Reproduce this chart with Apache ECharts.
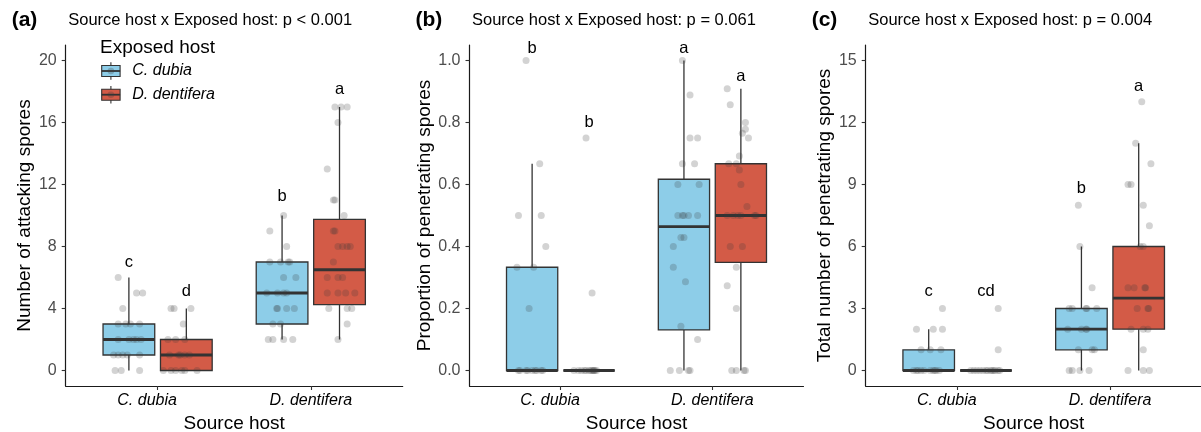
<!DOCTYPE html>
<html><head><meta charset="utf-8">
<script src="https://cdn.jsdelivr.net/npm/echarts@6/dist/echarts.min.js"></script>
<style>html,body{margin:0;padding:0;background:#fff}#c{width:1201px;height:432px}</style>
</head><body><div id="c"></div>
<script>
// ---------- data ----------
const sourceHosts = ['C. dubia', 'D. dentifera'];
const exposedHosts = ['C. dubia', 'D. dentifera'];
const panelLabels = ['(a)', '(b)', '(c)'];
const panelTitles = ['Source host x Exposed host: p < 0.001', 'Source host x Exposed host: p = 0.061', 'Source host x Exposed host: p = 0.004'];
const yTitles = ['Number of attacking spores', 'Proportion of penetrating spores', 'Total number of penetrating spores'];
const xTitle = 'Source host';
const legendTitle = 'Exposed host';
const attackTicks = [0, 4, 8, 12, 16, 20];
const propTicks = [0, 0.2, 0.4, 0.6, 0.8, 1.0];
const totalTicks = [0, 3, 6, 9, 12, 15];
// group order: [source index, exposed index]
const groups = [[0, 0], [0, 1], [1, 0], [1, 1]];
// box stats: [lower whisker, Q1, median, Q3, upper whisker]
const attackBox = [[0, 1, 2, 3, 6], [0, 0, 1, 2, 4], [2, 3, 5, 7, 10], [2, 4.25, 6.5, 9.75, 17]];
const propBox = [[0, 0, 0, 0.333, 0.667], [0, 0, 0, 0, 0], [0, 0.131, 0.464, 0.617, 1.0], [0, 0.349, 0.5, 0.667, 0.909]];
const totalBox = [[0, 0, 0, 1, 2], [0, 0, 0, 0, 0], [0, 1, 2, 3, 6], [0, 2, 3.5, 6, 11]];
// significance letters and their heights
const attackLetters = ['c', 'd', 'b', 'a'];
const attackLetterY = [7.0, 5.1, 11.2, 18.1];
const propLetters = ['b', 'b', 'a', 'a'];
const propLetterY = [1.04, 0.80, 1.04, 0.95];
const totalLetters = ['c', 'cd', 'b', 'a'];
const totalLetterY = [3.82, 3.82, 8.8, 13.74];
// raw points (values and jitter offsets)
const attackCCv = [6,5,5,4,3,3,3,3,2,2,2,2,2,1,1,1,1,1,0,0,0];
const attackCCj = [-0.07,0.05,0.09,-0.04,-0.07,-0.02,0.01,0.07,-0.07,0,0.03,0.05,0.08,-0.10,-0.07,-0.04,-0.01,0.07,-0.09,-0.05,0.07];
const attackCDv = [4,4,4,3,2,2,2,1,1,1,1,1,0,0,0,0,0,0];
const attackCDj = [-0.10,-0.08,0.03,-0.02,-0.12,-0.07,-0.01,-0.11,-0.05,-0.04,-0.01,0.02,-0.15,-0.10,-0.07,-0.03,-0.01,0.07];
const attackDCv = [10,9,8,7,7,7,7,6,6,5,5,5,5,4,4,4,4,3,3,2,2,2,2];
const attackDCj = [0.01,-0.08,0.03,-0.08,-0.01,0.04,0.05,0.01,0.09,-0.10,-0.03,0.01,0.03,-0.03,-0.035,0.03,0.08,-0.06,-0.01,-0.09,-0.06,0.01,0.07];
const attackDDv = [17,17,17,16,13,11,11,10,9,9,8,8,8,8,7,6,6,6,5,5,5,5,4,4,4,3,2];
const attackDDj = [-0.03,0.01,0.05,-0.01,-0.08,-0.04,-0.03,0.03,-0.04,-0.03,-0.01,0.02,0.05,0.07,-0.04,-0.08,-0.01,0.02,-0.08,-0.01,0.04,0.10,-0.07,0.05,0.08,0.05,-0.01];
const propCCv = [1.0,0.667,0.5,0.5,0.4,0.333,0.333,0.2,0,0,0,0,0,0,0,0,0];
const propCCj = [-0.04,0.05,-0.09,0.06,0.09,-0.10,0.01,-0.02,-0.09,-0.08,-0.04,-0.03,0,0.02,0.03,0.06,0.07];
const propCDv = [0.75,0.25,0,0,0,0,0,0,0,0,0,0,0,0];
const propCDj = [-0.02,0.02,-0.10,-0.07,-0.05,-0.03,-0.02,0,0.01,0.03,0.03,0.05,0.04,0.02];
const propDCv = [1.0,0.889,0.75,0.75,0.667,0.667,0.6,0.6,0.5,0.5,0.5,0.5,0.5,0.429,0.429,0.4,0.333,0.286,0.143,0.1,0,0,0,0];
const propDCj = [-0.01,0.04,0.04,0.09,-0.01,0.07,-0.04,0.10,-0.04,-0.01,0,0.03,0.09,-0.02,0,-0.07,-0.07,0.01,-0.02,0.09,-0.09,-0.03,0.03,0.04];
const propDDv = [0.909,0.857,0.8,0.778,0.765,0.75,0.692,0.667,0.667,0.647,0.6,0.529,0.5,0.5,0.5,0.5,0.5,0.5,0.4,0.4,0.333,0.273,0.2,0,0,0,0];
const propDDj = [-0.09,-0.07,0.03,0.03,0.01,0.05,-0.01,-0.08,-0.03,-0.01,0,0.04,-0.09,-0.05,-0.02,0,0.09,0.10,-0.07,0.01,-0.03,-0.09,-0.03,-0.06,-0.03,0.02,0.03];
const totalCCv = [3,2,2,2,1,1,1,0,0,0,0,0,0,0,0,0,0];
const totalCCj = [0.09,-0.08,0.03,0.09,-0.05,0.01,0.08,-0.10,-0.08,-0.07,-0.05,-0.03,0.01,0.03,0.04,0.05,0.07];
const totalCDv = [3,1,0,0,0,0,0,0,0,0,0,0,0,0,0];
const totalCDj = [0.08,0.08,-0.10,-0.08,-0.06,-0.04,-0.02,0,0.01,0.03,0.04,0.05,0.06,0.08,0.09];
const totalDCv = [8,6,4,3,3,3,3,3,2,2,2,2,1,1,1,0,0,0,0];
const totalDCj = [-0.02,-0.01,0.07,-0.08,-0.06,0.03,0.035,0.10,-0.09,0,0.03,0.035,-0.02,0.07,0.085,-0.08,-0.06,-0.01,0.05];
const totalDDv = [13,11,10,9,9,8,7,6,6,4,4,4,4,3,3,3,2,2,2,1,0,0,0];
const totalDDj = [0.02,-0.02,0.08,-0.07,-0.05,0.03,0.07,0.01,0.03,-0.07,-0.03,0.04,0.045,-0.01,0.06,0.065,-0.05,0.03,0.06,0.03,-0.07,0.03,0.07];

// ---------- styling / layout ----------
const FONT = '"Liberation Sans", Arial, Helvetica, sans-serif';
const fills = ['#8DCDE8', '#D35B47'];
const edge = '#333333';
const ptColor = 'rgba(60,60,60,0.28)';
const DODGE = 0.1875, HALF = 0.16875;
const gridsPos = [
  {left: 65.7, top: 45, width: 337, height: 341},
  {left: 469.5, top: 45, width: 334, height: 341},
  {left: 865.7, top: 45, width: 336, height: 341}
];
const panels = [
  {box: attackBox, pts: [[attackCCv, attackCCj], [attackCDv, attackCDj], [attackDCv, attackDCj], [attackDDv, attackDDj]],
   letters: attackLetters, letterY: attackLetterY, ticks: attackTicks, min: -1, max: 21, dec: 0},
  {box: propBox, pts: [[propCCv, propCCj], [propCDv, propCDj], [propDCv, propDCj], [propDDv, propDDj]],
   letters: propLetters, letterY: propLetterY, ticks: propTicks, min: -0.05, max: 1.05, dec: 1},
  {box: totalBox, pts: [[totalCCv, totalCCj], [totalCDv, totalCDj], [totalDCv, totalDCj], [totalDDv, totalDDj]],
   letters: totalLetters, letterY: totalLetterY, ticks: totalTicks, min: -0.75, max: 15.75, dec: 0}
];
function groupX(g) { return groups[g][0] + 1 + (groups[g][1] === 0 ? -DODGE : DODGE); }

const grid = [], xAxis = [], yAxis = [], series = [], graphic = [];
panels.forEach((p, i) => {
  grid.push(Object.assign({containLabel: false, outerBoundsMode: 'none'}, gridsPos[i]));
  xAxis.push({
    type: 'value', gridIndex: i, min: 0.4, max: 2.6,
    name: xTitle, nameLocation: 'middle', nameGap: 25,
    nameTextStyle: {fontFamily: FONT, fontSize: 19, color: '#000'},
    axisLine: {show: true, onZero: false, lineStyle: {color: '#1a1a1a', width: 1.2}},
    axisTick: {show: true, length: 4, customValues: [1, 2], lineStyle: {color: '#333', width: 1.1}},
    axisLabel: {customValues: [1, 2], margin: 7, fontFamily: FONT, fontSize: 16, color: '#000', fontStyle: 'italic',
      formatter: v => v === 1 ? '{s|' + sourceHosts[0] + '}' : sourceHosts[Math.round(v) - 1],
      rich: {s: {fontFamily: FONT, fontSize: 16, fontStyle: 'italic', color: '#000', padding: [0, 21, 0, 0]}}},
    splitLine: {show: false}
  });
  yAxis.push({
    type: 'value', gridIndex: i, min: p.min, max: p.max,
    name: yTitles[i], nameLocation: 'middle', nameGap: 31, nameRotate: 90,
    nameTextStyle: {fontFamily: FONT, fontSize: 19, color: '#000'},
    axisLine: {show: true, onZero: false, lineStyle: {color: '#1a1a1a', width: 1.2}},
    axisTick: {show: true, length: 4, customValues: p.ticks, lineStyle: {color: '#333', width: 1.1}},
    axisLabel: {customValues: p.ticks, margin: 9, fontFamily: FONT, fontSize: 16, color: '#4D4D4D',
      formatter: v => v.toFixed(p.dec)},
    splitLine: {show: false}
  });
  // boxes
  series.push({
    type: 'custom', xAxisIndex: i, yAxisIndex: i, z: 2,
    data: p.box.map((b, g) => [groupX(g)].concat(b).concat([groups[g][1]])),
    encode: {x: 0, y: [1, 5]},
    renderItem: (params, api) => {
      const x = api.value(0);
      const q = [1, 2, 3, 4, 5].map(k => api.value(k));
      const ci = api.value(6);
      const c = (yy) => api.coord([x, yy]);
      const tl = api.coord([x - HALF, q[3]]);
      const br = api.coord([x + HALF, q[1]]);
      const ml = api.coord([x - HALF, q[2]]);
      const mr = api.coord([x + HALF, q[2]]);
      const children = [];
      if (q[4] > q[3]) children.push({type: 'line', shape: {x1: c(q[4])[0], y1: c(q[4])[1], x2: c(q[3])[0], y2: c(q[3])[1]}, style: {stroke: edge, lineWidth: 1.3}});
      if (q[1] > q[0]) children.push({type: 'line', shape: {x1: c(q[1])[0], y1: c(q[1])[1], x2: c(q[0])[0], y2: c(q[0])[1]}, style: {stroke: edge, lineWidth: 1.3}});
      children.push({type: 'rect', shape: {x: tl[0], y: tl[1], width: br[0] - tl[0], height: br[1] - tl[1]}, style: {fill: fills[ci], stroke: edge, lineWidth: 1.3}});
      children.push({type: 'line', shape: {x1: ml[0], y1: ml[1], x2: mr[0], y2: mr[1]}, style: {stroke: edge, lineWidth: 2.8}});
      return {type: 'group', children};
    }
  });
  // jittered points
  const pts = [];
  p.pts.forEach((pair, g) => {
    pair[0].forEach((v, k) => pts.push([groupX(g) + pair[1][k], v]));
  });
  series.push({
    type: 'scatter', xAxisIndex: i, yAxisIndex: i, z: 3, symbol: 'circle', symbolSize: 7,
    itemStyle: {color: ptColor}, emphasis: {disabled: true}, data: pts, animation: false
  });
  // letters
  series.push({
    type: 'custom', xAxisIndex: i, yAxisIndex: i, z: 4,
    data: p.letterY.map((y, g) => [groupX(g), y]),
    encode: {x: 0, y: 1},
    renderItem: (params, api) => {
      const pt = api.coord([api.value(0), api.value(1)]);
      return {type: 'text', x: pt[0], y: pt[1], style: {text: p.letters[params.dataIndex], fill: '#000',
        font: '16.5px ' + FONT, align: 'center', verticalAlign: 'middle', textAlign: 'center', textVerticalAlign: 'middle'}};
    }
  });
  // panel tag & title
  graphic.push({type: 'text', x: gridsPos[i].left - 54, y: 20, style: {text: panelLabels[i], fill: '#000',
    font: 'bold 21px ' + FONT, verticalAlign: 'middle', textVerticalAlign: 'middle'}});
  graphic.push({type: 'text', x: gridsPos[i].left + 2.5, y: 20, style: {text: panelTitles[i], fill: '#000',
    font: '16.5px ' + FONT, verticalAlign: 'middle', textVerticalAlign: 'middle'}});
});

// legend (drawn in panel a)
graphic.push({type: 'text', x: 100, y: 47.5, style: {text: legendTitle, fill: '#000', font: '19px ' + FONT, verticalAlign: 'middle', textVerticalAlign: 'middle'}});
exposedHosts.forEach((h, k) => {
  const cy = 71 + k * 23.7;
  graphic.push({type: 'line', shape: {x1: 110.9, y1: cy - 8.7, x2: 110.9, y2: cy + 8.7}, style: {stroke: edge, lineWidth: 1.1}});
  graphic.push({type: 'rect', shape: {x: 101.7, y: cy - 5.5, width: 18.4, height: 11}, style: {fill: fills[k], stroke: edge, lineWidth: 1.1}});
  graphic.push({type: 'line', shape: {x1: 101.7, y1: cy, x2: 120.1, y2: cy}, style: {stroke: edge, lineWidth: 1.8}});
  graphic.push({type: 'circle', shape: {cx: 110.9, cy: cy, r: 3.3}, style: {fill: ptColor}});
  graphic.push({type: 'text', x: 132.3, y: cy, style: {text: h, fill: '#000', font: 'italic 16px ' + FONT, verticalAlign: 'middle', textVerticalAlign: 'middle'}});
});

const chart = echarts.init(document.getElementById('c'), null, {renderer: 'canvas'});
chart.setOption({
  animation: false,
  backgroundColor: '#fff',
  grid, xAxis, yAxis, series, graphic,
  tooltip: {show: false}
});
</script>
</body></html>
